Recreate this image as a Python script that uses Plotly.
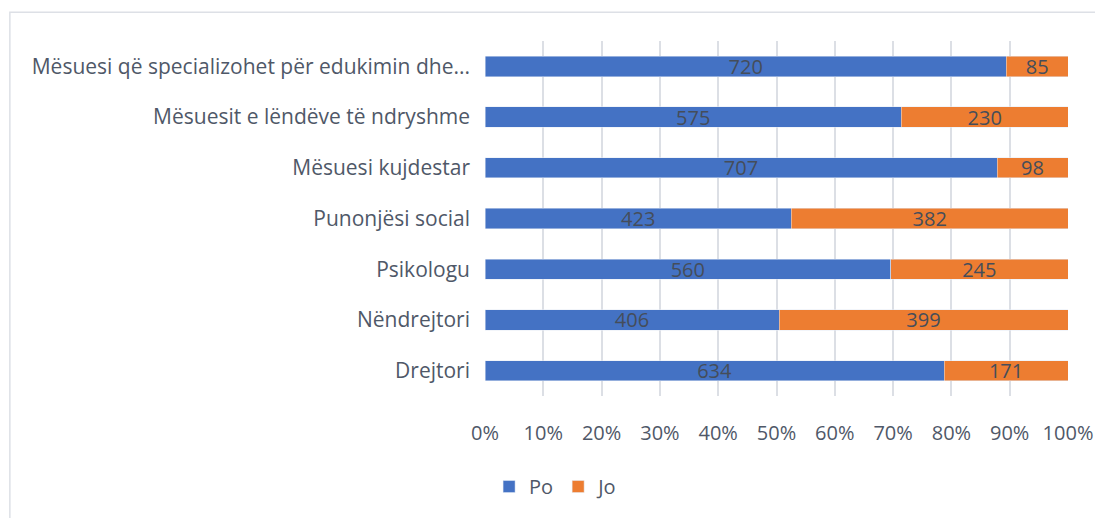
import plotly.graph_objects as go

categories = [
    "Mësuesi që specializohet për edukimin dhe...",
    "Mësuesit e lëndëve të ndryshme",
    "Mësuesi kujdestar",
    "Punonjësi social",
    "Psikologu",
    "Nëndrejtori",
    "Drejtori",
]
po_values = [720, 575, 707, 423, 560, 406, 634]
jo_values = [85, 230, 98, 382, 245, 399, 171]

text_color = "#4f5868"
label_font = dict(family="Open Sans", size=20, color="#454d5a")

fig = go.Figure()
fig.add_trace(go.Bar(
    name="Po", y=categories, x=po_values, orientation="h",
    marker=dict(color="#4472C4"), text=po_values,
    textposition="inside", insidetextanchor="middle", textangle=0,
    constraintext="none", textfont=label_font, width=0.4,
))
fig.add_trace(go.Bar(
    name="Jo", y=categories, x=jo_values, orientation="h",
    marker=dict(color="#ED7D31"), text=jo_values,
    textposition="inside", insidetextanchor="middle", textangle=0,
    constraintext="none", textfont=label_font, width=0.4,
))

fig.update_layout(
    width=1095, height=518,
    barmode="stack", barnorm="percent",
    plot_bgcolor="white", paper_bgcolor="white",
    margin=dict(l=485, r=27, t=41, b=118),
    font=dict(family="Open Sans", size=20, color=text_color),
    legend=dict(
        orientation="h", x=0.007, xanchor="left", y=-0.255, yanchor="middle",
        font=dict(size=20), traceorder="normal",
    ),
    xaxis=dict(
        range=[0, 100], dtick=10, ticksuffix="%", automargin=False,
        showgrid=True, gridcolor="#dcdfe5", gridwidth=1.5,
        zeroline=False, showline=False, ticklabelstandoff=23,
    ),
    yaxis=dict(
        autorange="reversed", showgrid=False, showline=False, automargin=False,
        ticks="", ticklabelstandoff=14, tickfont=dict(size=21),
    ),
    shapes=[dict(
        type="rect", xref="paper", yref="paper",
        x0=-0.815, x1=1.3, y0=-0.6, y1=1.081,
        line=dict(color="#dde0e6", width=1.5), layer="below",
    )],
)

# drop the default page margin so the figure sits at the window's corner
fig.write_html(
    "out.html",
    config={"displayModeBar": False},
    post_script="document.body.style.margin='0';",
)
